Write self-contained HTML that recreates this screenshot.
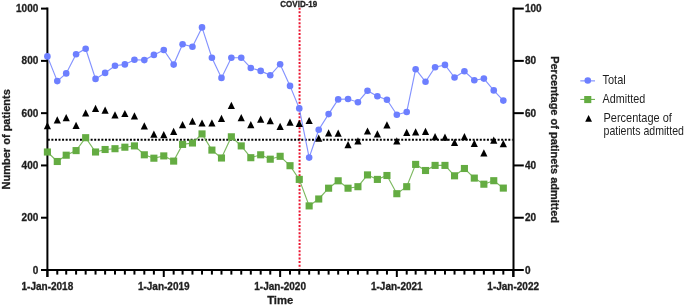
<!DOCTYPE html><html><head><meta charset="utf-8"><style>html,body{margin:0;padding:0;background:#fff;width:685px;height:306px;overflow:hidden}svg{display:block;will-change:transform}text{font-family:"Liberation Sans",sans-serif;fill:#1e1e1e}.b{stroke:#1e1e1e;stroke-width:0.3px}</style></head><body>
<svg width="685" height="306" viewBox="0 0 685 306">
<line x1="299.57" y1="7.7" x2="299.57" y2="268.5" stroke="#ea1530" stroke-width="2" stroke-dasharray="2 1.62"/>
<text x="298.77" y="6.7" font-size="8.6" font-weight="bold" class="b" text-anchor="middle" textLength="37" lengthAdjust="spacingAndGlyphs">COVID-19</text>
<line x1="47.8" y1="139.7" x2="512.6" y2="139.7" stroke="#000" stroke-width="1.9" stroke-dasharray="2 1.57"/>
<g stroke="#000" stroke-width="2" fill="none">
<line x1="47.40" y1="7.6" x2="47.40" y2="277"/>
<line x1="513.50" y1="7.6" x2="513.50" y2="277"/>
<line x1="41" y1="270.00" x2="513.50" y2="270.00"/>
<line x1="41" y1="270.00" x2="47.40" y2="270.00"/>
<line x1="513.50" y1="270.00" x2="523.8" y2="270.00"/>
<line x1="41" y1="217.72" x2="47.40" y2="217.72"/>
<line x1="513.50" y1="217.72" x2="523.8" y2="217.72"/>
<line x1="41" y1="165.44" x2="47.40" y2="165.44"/>
<line x1="513.50" y1="165.44" x2="523.8" y2="165.44"/>
<line x1="41" y1="113.16" x2="47.40" y2="113.16"/>
<line x1="513.50" y1="113.16" x2="523.8" y2="113.16"/>
<line x1="41" y1="60.88" x2="47.40" y2="60.88"/>
<line x1="513.50" y1="60.88" x2="523.8" y2="60.88"/>
<line x1="41" y1="8.60" x2="47.40" y2="8.60"/>
<line x1="513.50" y1="8.60" x2="523.8" y2="8.60"/>
<line x1="47.40" y1="270.00" x2="47.40" y2="277"/>
<line x1="57.28" y1="270.00" x2="57.28" y2="274.6"/>
<line x1="66.21" y1="270.00" x2="66.21" y2="274.6"/>
<line x1="76.09" y1="270.00" x2="76.09" y2="274.6"/>
<line x1="85.66" y1="270.00" x2="85.66" y2="274.6"/>
<line x1="95.54" y1="270.00" x2="95.54" y2="274.6"/>
<line x1="105.11" y1="270.00" x2="105.11" y2="274.6"/>
<line x1="114.99" y1="270.00" x2="114.99" y2="274.6"/>
<line x1="124.87" y1="270.00" x2="124.87" y2="274.6"/>
<line x1="134.44" y1="270.00" x2="134.44" y2="274.6"/>
<line x1="144.32" y1="270.00" x2="144.32" y2="274.6"/>
<line x1="153.89" y1="270.00" x2="153.89" y2="274.6"/>
<line x1="163.77" y1="270.00" x2="163.77" y2="277"/>
<line x1="173.65" y1="270.00" x2="173.65" y2="274.6"/>
<line x1="182.58" y1="270.00" x2="182.58" y2="274.6"/>
<line x1="192.46" y1="270.00" x2="192.46" y2="274.6"/>
<line x1="202.03" y1="270.00" x2="202.03" y2="274.6"/>
<line x1="211.91" y1="270.00" x2="211.91" y2="274.6"/>
<line x1="221.48" y1="270.00" x2="221.48" y2="274.6"/>
<line x1="231.36" y1="270.00" x2="231.36" y2="274.6"/>
<line x1="241.24" y1="270.00" x2="241.24" y2="274.6"/>
<line x1="250.81" y1="270.00" x2="250.81" y2="274.6"/>
<line x1="260.69" y1="270.00" x2="260.69" y2="274.6"/>
<line x1="270.26" y1="270.00" x2="270.26" y2="274.6"/>
<line x1="280.14" y1="270.00" x2="280.14" y2="277"/>
<line x1="290.02" y1="270.00" x2="290.02" y2="274.6"/>
<line x1="299.27" y1="270.00" x2="299.27" y2="274.6"/>
<line x1="309.15" y1="270.00" x2="309.15" y2="274.6"/>
<line x1="318.72" y1="270.00" x2="318.72" y2="274.6"/>
<line x1="328.60" y1="270.00" x2="328.60" y2="274.6"/>
<line x1="338.17" y1="270.00" x2="338.17" y2="274.6"/>
<line x1="348.05" y1="270.00" x2="348.05" y2="274.6"/>
<line x1="357.93" y1="270.00" x2="357.93" y2="274.6"/>
<line x1="367.50" y1="270.00" x2="367.50" y2="274.6"/>
<line x1="377.38" y1="270.00" x2="377.38" y2="274.6"/>
<line x1="386.95" y1="270.00" x2="386.95" y2="274.6"/>
<line x1="396.83" y1="270.00" x2="396.83" y2="277"/>
<line x1="406.71" y1="270.00" x2="406.71" y2="274.6"/>
<line x1="415.64" y1="270.00" x2="415.64" y2="274.6"/>
<line x1="425.52" y1="270.00" x2="425.52" y2="274.6"/>
<line x1="435.09" y1="270.00" x2="435.09" y2="274.6"/>
<line x1="444.97" y1="270.00" x2="444.97" y2="274.6"/>
<line x1="454.54" y1="270.00" x2="454.54" y2="274.6"/>
<line x1="464.42" y1="270.00" x2="464.42" y2="274.6"/>
<line x1="474.30" y1="270.00" x2="474.30" y2="274.6"/>
<line x1="483.87" y1="270.00" x2="483.87" y2="274.6"/>
<line x1="493.75" y1="270.00" x2="493.75" y2="274.6"/>
<line x1="503.32" y1="270.00" x2="503.32" y2="274.6"/>
<line x1="513.20" y1="270.00" x2="513.20" y2="277"/>
</g>
<g font-size="10" font-weight="bold" class="b">
<text x="38.3" y="273.60" text-anchor="end">0</text>
<text x="525" y="273.60">0</text>
<text x="38.3" y="221.32" text-anchor="end">200</text>
<text x="525" y="221.32">20</text>
<text x="38.3" y="169.04" text-anchor="end">400</text>
<text x="525" y="169.04">40</text>
<text x="38.3" y="116.76" text-anchor="end">600</text>
<text x="525" y="116.76">60</text>
<text x="38.3" y="64.48" text-anchor="end">800</text>
<text x="525" y="64.48">80</text>
<text x="38.3" y="12.20" text-anchor="end">1000</text>
<text x="525" y="12.20">100</text>
<text x="47.40" y="290.3" text-anchor="middle">1-Jan-2018</text>
<text x="163.77" y="290.3" text-anchor="middle">1-Jan-2019</text>
<text x="280.14" y="290.3" text-anchor="middle">1-Jan-2020</text>
<text x="396.83" y="290.3" text-anchor="middle">1-Jan-2021</text>
<text x="513.20" y="290.3" text-anchor="middle">1-Jan-2022</text>
</g>
<text transform="translate(280.2,304.4) scale(1,1.04)" font-size="11.3" font-weight="bold" class="b" text-anchor="middle">Time</text>
<text transform="translate(9.8,139.3) rotate(-90)" font-size="11" font-weight="bold" class="b" text-anchor="middle">Number of patients</text>
<text transform="translate(551.4,139.6) rotate(90)" font-size="11" font-weight="bold" class="b" text-anchor="middle">Percentage of patinets admitted</text>
<polyline points="47.40,56.40 57.28,81.10 66.21,73.40 76.09,54.20 85.66,48.70 95.54,78.90 105.11,72.90 114.99,65.80 124.87,64.40 134.44,59.80 144.32,60.10 153.89,54.90 163.77,50.00 173.65,64.60 182.58,44.20 192.46,46.80 202.03,27.40 211.91,57.70 221.48,77.90 231.36,57.70 241.24,57.70 250.81,68.00 260.69,70.90 270.26,75.30 280.14,64.20 290.02,85.90 299.27,108.40 309.15,157.60 318.72,129.70 328.60,114.10 338.17,99.40 348.05,99.00 357.93,102.20 367.50,90.80 377.38,96.30 386.95,99.80 396.83,114.70 406.71,112.00 415.64,69.20 425.52,81.80 435.09,67.30 444.97,64.90 454.54,77.50 464.42,71.20 474.30,80.20 483.87,78.60 493.75,90.40 503.32,100.60" fill="none" stroke="#6d7fff" stroke-width="1.15" stroke-opacity="0.85"/>
<circle cx="47.40" cy="56.40" r="3.30" fill="#6d7fff"/>
<circle cx="57.28" cy="81.10" r="3.30" fill="#6d7fff"/>
<circle cx="66.21" cy="73.40" r="3.30" fill="#6d7fff"/>
<circle cx="76.09" cy="54.20" r="3.30" fill="#6d7fff"/>
<circle cx="85.66" cy="48.70" r="3.30" fill="#6d7fff"/>
<circle cx="95.54" cy="78.90" r="3.30" fill="#6d7fff"/>
<circle cx="105.11" cy="72.90" r="3.30" fill="#6d7fff"/>
<circle cx="114.99" cy="65.80" r="3.30" fill="#6d7fff"/>
<circle cx="124.87" cy="64.40" r="3.30" fill="#6d7fff"/>
<circle cx="134.44" cy="59.80" r="3.30" fill="#6d7fff"/>
<circle cx="144.32" cy="60.10" r="3.30" fill="#6d7fff"/>
<circle cx="153.89" cy="54.90" r="3.30" fill="#6d7fff"/>
<circle cx="163.77" cy="50.00" r="3.30" fill="#6d7fff"/>
<circle cx="173.65" cy="64.60" r="3.30" fill="#6d7fff"/>
<circle cx="182.58" cy="44.20" r="3.30" fill="#6d7fff"/>
<circle cx="192.46" cy="46.80" r="3.30" fill="#6d7fff"/>
<circle cx="202.03" cy="27.40" r="3.30" fill="#6d7fff"/>
<circle cx="211.91" cy="57.70" r="3.30" fill="#6d7fff"/>
<circle cx="221.48" cy="77.90" r="3.30" fill="#6d7fff"/>
<circle cx="231.36" cy="57.70" r="3.30" fill="#6d7fff"/>
<circle cx="241.24" cy="57.70" r="3.30" fill="#6d7fff"/>
<circle cx="250.81" cy="68.00" r="3.30" fill="#6d7fff"/>
<circle cx="260.69" cy="70.90" r="3.30" fill="#6d7fff"/>
<circle cx="270.26" cy="75.30" r="3.30" fill="#6d7fff"/>
<circle cx="280.14" cy="64.20" r="3.30" fill="#6d7fff"/>
<circle cx="290.02" cy="85.90" r="3.30" fill="#6d7fff"/>
<circle cx="299.27" cy="108.40" r="3.30" fill="#6d7fff"/>
<circle cx="309.15" cy="157.60" r="3.30" fill="#6d7fff"/>
<circle cx="318.72" cy="129.70" r="3.30" fill="#6d7fff"/>
<circle cx="328.60" cy="114.10" r="3.30" fill="#6d7fff"/>
<circle cx="338.17" cy="99.40" r="3.30" fill="#6d7fff"/>
<circle cx="348.05" cy="99.00" r="3.30" fill="#6d7fff"/>
<circle cx="357.93" cy="102.20" r="3.30" fill="#6d7fff"/>
<circle cx="367.50" cy="90.80" r="3.30" fill="#6d7fff"/>
<circle cx="377.38" cy="96.30" r="3.30" fill="#6d7fff"/>
<circle cx="386.95" cy="99.80" r="3.30" fill="#6d7fff"/>
<circle cx="396.83" cy="114.70" r="3.30" fill="#6d7fff"/>
<circle cx="406.71" cy="112.00" r="3.30" fill="#6d7fff"/>
<circle cx="415.64" cy="69.20" r="3.30" fill="#6d7fff"/>
<circle cx="425.52" cy="81.80" r="3.30" fill="#6d7fff"/>
<circle cx="435.09" cy="67.30" r="3.30" fill="#6d7fff"/>
<circle cx="444.97" cy="64.90" r="3.30" fill="#6d7fff"/>
<circle cx="454.54" cy="77.50" r="3.30" fill="#6d7fff"/>
<circle cx="464.42" cy="71.20" r="3.30" fill="#6d7fff"/>
<circle cx="474.30" cy="80.20" r="3.30" fill="#6d7fff"/>
<circle cx="483.87" cy="78.60" r="3.30" fill="#6d7fff"/>
<circle cx="493.75" cy="90.40" r="3.30" fill="#6d7fff"/>
<circle cx="503.32" cy="100.60" r="3.30" fill="#6d7fff"/>
<polyline points="47.40,152.00 57.28,161.50 66.21,155.20 76.09,150.60 85.66,137.70 95.54,152.00 105.11,149.50 114.99,148.70 124.87,147.20 134.44,145.90 144.32,154.80 153.89,158.20 163.77,155.90 173.65,161.10 182.58,144.40 192.46,143.00 202.03,133.90 211.91,150.10 221.48,158.00 231.36,136.80 241.24,145.90 250.81,157.70 260.69,154.80 270.26,159.20 280.14,156.30 290.02,165.70 299.27,179.40 309.15,205.90 318.72,199.00 328.60,188.20 338.17,180.80 348.05,188.20 357.93,186.70 367.50,174.90 377.38,179.40 386.95,175.50 396.83,193.70 406.71,186.70 415.64,164.40 425.52,170.50 435.09,165.40 444.97,165.40 454.54,175.80 464.42,168.50 474.30,178.10 483.87,184.20 493.75,180.70 503.32,188.10" fill="none" stroke="#64ac42" stroke-width="1.15" stroke-opacity="0.85"/>
<rect x="43.85" y="148.45" width="7.10" height="7.10" fill="#64ac42"/>
<rect x="53.73" y="157.95" width="7.10" height="7.10" fill="#64ac42"/>
<rect x="62.66" y="151.65" width="7.10" height="7.10" fill="#64ac42"/>
<rect x="72.54" y="147.05" width="7.10" height="7.10" fill="#64ac42"/>
<rect x="82.11" y="134.15" width="7.10" height="7.10" fill="#64ac42"/>
<rect x="91.99" y="148.45" width="7.10" height="7.10" fill="#64ac42"/>
<rect x="101.56" y="145.95" width="7.10" height="7.10" fill="#64ac42"/>
<rect x="111.44" y="145.15" width="7.10" height="7.10" fill="#64ac42"/>
<rect x="121.32" y="143.65" width="7.10" height="7.10" fill="#64ac42"/>
<rect x="130.89" y="142.35" width="7.10" height="7.10" fill="#64ac42"/>
<rect x="140.77" y="151.25" width="7.10" height="7.10" fill="#64ac42"/>
<rect x="150.34" y="154.65" width="7.10" height="7.10" fill="#64ac42"/>
<rect x="160.22" y="152.35" width="7.10" height="7.10" fill="#64ac42"/>
<rect x="170.10" y="157.55" width="7.10" height="7.10" fill="#64ac42"/>
<rect x="179.03" y="140.85" width="7.10" height="7.10" fill="#64ac42"/>
<rect x="188.91" y="139.45" width="7.10" height="7.10" fill="#64ac42"/>
<rect x="198.48" y="130.35" width="7.10" height="7.10" fill="#64ac42"/>
<rect x="208.36" y="146.55" width="7.10" height="7.10" fill="#64ac42"/>
<rect x="217.93" y="154.45" width="7.10" height="7.10" fill="#64ac42"/>
<rect x="227.81" y="133.25" width="7.10" height="7.10" fill="#64ac42"/>
<rect x="237.69" y="142.35" width="7.10" height="7.10" fill="#64ac42"/>
<rect x="247.26" y="154.15" width="7.10" height="7.10" fill="#64ac42"/>
<rect x="257.14" y="151.25" width="7.10" height="7.10" fill="#64ac42"/>
<rect x="266.71" y="155.65" width="7.10" height="7.10" fill="#64ac42"/>
<rect x="276.59" y="152.75" width="7.10" height="7.10" fill="#64ac42"/>
<rect x="286.47" y="162.15" width="7.10" height="7.10" fill="#64ac42"/>
<rect x="295.72" y="175.85" width="7.10" height="7.10" fill="#64ac42"/>
<rect x="305.60" y="202.35" width="7.10" height="7.10" fill="#64ac42"/>
<rect x="315.17" y="195.45" width="7.10" height="7.10" fill="#64ac42"/>
<rect x="325.05" y="184.65" width="7.10" height="7.10" fill="#64ac42"/>
<rect x="334.62" y="177.25" width="7.10" height="7.10" fill="#64ac42"/>
<rect x="344.50" y="184.65" width="7.10" height="7.10" fill="#64ac42"/>
<rect x="354.38" y="183.15" width="7.10" height="7.10" fill="#64ac42"/>
<rect x="363.95" y="171.35" width="7.10" height="7.10" fill="#64ac42"/>
<rect x="373.83" y="175.85" width="7.10" height="7.10" fill="#64ac42"/>
<rect x="383.40" y="171.95" width="7.10" height="7.10" fill="#64ac42"/>
<rect x="393.28" y="190.15" width="7.10" height="7.10" fill="#64ac42"/>
<rect x="403.16" y="183.15" width="7.10" height="7.10" fill="#64ac42"/>
<rect x="412.09" y="160.85" width="7.10" height="7.10" fill="#64ac42"/>
<rect x="421.97" y="166.95" width="7.10" height="7.10" fill="#64ac42"/>
<rect x="431.54" y="161.85" width="7.10" height="7.10" fill="#64ac42"/>
<rect x="441.42" y="161.85" width="7.10" height="7.10" fill="#64ac42"/>
<rect x="450.99" y="172.25" width="7.10" height="7.10" fill="#64ac42"/>
<rect x="460.87" y="164.95" width="7.10" height="7.10" fill="#64ac42"/>
<rect x="470.75" y="174.55" width="7.10" height="7.10" fill="#64ac42"/>
<rect x="480.32" y="180.65" width="7.10" height="7.10" fill="#64ac42"/>
<rect x="490.20" y="177.15" width="7.10" height="7.10" fill="#64ac42"/>
<rect x="499.77" y="184.55" width="7.10" height="7.10" fill="#64ac42"/>
<path d="M47.40 122.00L51.00 129.20L43.80 129.20Z" fill="#000"/>
<path d="M57.28 116.30L60.88 123.50L53.68 123.50Z" fill="#000"/>
<path d="M66.21 114.10L69.81 121.30L62.61 121.30Z" fill="#000"/>
<path d="M76.09 121.70L79.69 128.90L72.49 128.90Z" fill="#000"/>
<path d="M85.66 109.30L89.26 116.50L82.06 116.50Z" fill="#000"/>
<path d="M95.54 104.70L99.14 111.90L91.94 111.90Z" fill="#000"/>
<path d="M105.11 106.50L108.71 113.70L101.51 113.70Z" fill="#000"/>
<path d="M114.99 111.20L118.59 118.40L111.39 118.40Z" fill="#000"/>
<path d="M124.87 109.90L128.47 117.10L121.27 117.10Z" fill="#000"/>
<path d="M134.44 112.20L138.04 119.40L130.84 119.40Z" fill="#000"/>
<path d="M144.32 122.20L147.92 129.40L140.72 129.40Z" fill="#000"/>
<path d="M153.89 130.60L157.49 137.80L150.29 137.80Z" fill="#000"/>
<path d="M163.77 131.10L167.37 138.30L160.17 138.30Z" fill="#000"/>
<path d="M173.65 127.70L177.25 134.90L170.05 134.90Z" fill="#000"/>
<path d="M182.58 121.10L186.18 128.30L178.98 128.30Z" fill="#000"/>
<path d="M192.46 117.50L196.06 124.70L188.86 124.70Z" fill="#000"/>
<path d="M202.03 119.40L205.63 126.60L198.43 126.60Z" fill="#000"/>
<path d="M211.91 119.20L215.51 126.40L208.31 126.40Z" fill="#000"/>
<path d="M221.48 114.80L225.08 122.00L217.88 122.00Z" fill="#000"/>
<path d="M231.36 101.70L234.96 108.90L227.76 108.90Z" fill="#000"/>
<path d="M241.24 114.10L244.84 121.30L237.64 121.30Z" fill="#000"/>
<path d="M250.81 121.10L254.41 128.30L247.21 128.30Z" fill="#000"/>
<path d="M260.69 115.60L264.29 122.80L257.09 122.80Z" fill="#000"/>
<path d="M270.26 117.10L273.86 124.30L266.66 124.30Z" fill="#000"/>
<path d="M280.14 122.70L283.74 129.90L276.54 129.90Z" fill="#000"/>
<path d="M290.02 118.60L293.62 125.80L286.42 125.80Z" fill="#000"/>
<path d="M299.27 119.80L302.87 127.00L295.67 127.00Z" fill="#000"/>
<path d="M309.15 116.90L312.75 124.10L305.55 124.10Z" fill="#000"/>
<path d="M318.72 134.60L322.32 141.80L315.12 141.80Z" fill="#000"/>
<path d="M328.60 129.30L332.20 136.50L325.00 136.50Z" fill="#000"/>
<path d="M338.17 129.60L341.77 136.80L334.57 136.80Z" fill="#000"/>
<path d="M348.05 141.00L351.65 148.20L344.45 148.20Z" fill="#000"/>
<path d="M357.93 137.20L361.53 144.40L354.33 144.40Z" fill="#000"/>
<path d="M367.50 127.40L371.10 134.60L363.90 134.60Z" fill="#000"/>
<path d="M377.38 130.20L380.98 137.40L373.78 137.40Z" fill="#000"/>
<path d="M386.95 121.30L390.55 128.50L383.35 128.50Z" fill="#000"/>
<path d="M396.83 137.30L400.43 144.50L393.23 144.50Z" fill="#000"/>
<path d="M406.71 128.70L410.31 135.90L403.11 135.90Z" fill="#000"/>
<path d="M415.64 128.30L419.24 135.50L412.04 135.50Z" fill="#000"/>
<path d="M425.52 127.70L429.12 134.90L421.92 134.90Z" fill="#000"/>
<path d="M435.09 133.00L438.69 140.20L431.49 140.20Z" fill="#000"/>
<path d="M444.97 133.60L448.57 140.80L441.37 140.80Z" fill="#000"/>
<path d="M454.54 138.80L458.14 146.00L450.94 146.00Z" fill="#000"/>
<path d="M464.42 133.00L468.02 140.20L460.82 140.20Z" fill="#000"/>
<path d="M474.30 139.80L477.90 147.00L470.70 147.00Z" fill="#000"/>
<path d="M483.87 149.20L487.47 156.40L480.27 156.40Z" fill="#000"/>
<path d="M493.75 136.50L497.35 143.70L490.15 143.70Z" fill="#000"/>
<path d="M503.32 140.00L506.92 147.20L499.72 147.20Z" fill="#000"/>
<line x1="580.3" y1="80.9" x2="595" y2="80.9" stroke="#6d7fff" stroke-width="1"/>
<circle cx="587.8" cy="80.45" r="3.30" fill="#6d7fff"/>
<line x1="580.3" y1="99.4" x2="595" y2="99.4" stroke="#64ac42" stroke-width="1"/>
<rect x="584.20" y="96.00" width="7.10" height="7.10" fill="#64ac42"/>
<path d="M588.6 114.9L592 121.7L585.2 121.7Z" fill="#000"/>
<g font-size="11" fill="#2a2a2a">
<text transform="translate(602.5,83.9) scale(1,1.08)">Total</text>
<text transform="translate(602.6,102.8) scale(1,1.08)" textLength="42.6" lengthAdjust="spacingAndGlyphs">Admitted</text>
<text transform="translate(603.5,121.5) scale(1,1.08)">Percentage of</text>
<text transform="translate(603.5,134.7) scale(1,1.08)" textLength="80.5" lengthAdjust="spacingAndGlyphs">patients admitted</text>
</g>
</svg></body></html>
